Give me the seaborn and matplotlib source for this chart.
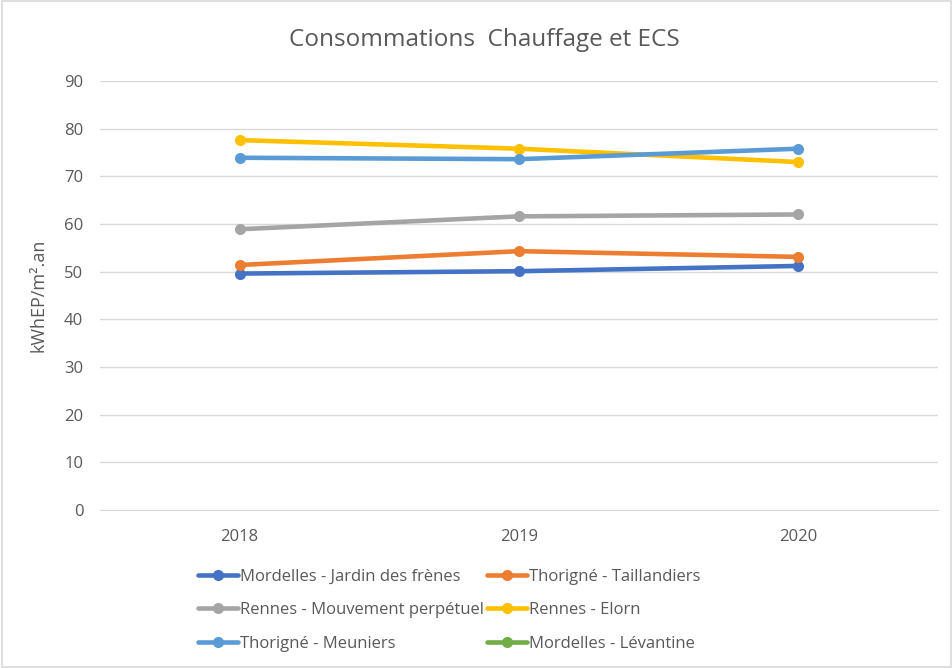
import numpy as np
import pandas as pd
import matplotlib
matplotlib.use('Agg')
import matplotlib.pyplot as plt
from matplotlib.lines import Line2D
from matplotlib.patches import Rectangle
import seaborn as sns

years = ['2018', '2019', '2020']
sites = ['Mordelles - Jardin des frènes', 'Thorigné - Taillandiers',
         'Rennes - Mouvement perpétuel', 'Rennes - Elorn',
         'Thorigné - Meuniers', 'Mordelles - Lévantine']
jardin = [49.6, 50.1, 51.2]
taillandiers = [51.4, 54.3, 53.1]
mouvement = [58.9, 61.6, 62.0]
elorn = [77.6, 75.8, 73.0]
meuniers = [73.9, 73.6, 75.8]
levantine = [np.nan, np.nan, np.nan]
colors = ['#4472C4', '#ED7D31', '#A5A5A5', '#FFC000', '#5B9BD5', '#70AD47']

series = [jardin, taillandiers, mouvement, elorn, meuniers, levantine]
rows = []
for s, vals in zip(sites, series):
    for y, v in zip(years, vals):
        rows.append({'year': y, 'value': v, 'site': s})
df = pd.DataFrame(rows).dropna()

sns.set_style('white')
plt.rcParams['font.family'] = ['Open Sans', 'DejaVu Sans']
txt = '#595959'

fig = plt.figure(figsize=(9.53, 6.68), dpi=100)
fig.patches.append(Rectangle((0.002, 0.002), 0.996, 0.996, transform=fig.transFigure,
                             fill=False, edgecolor='#D9D9D9', linewidth=1.2))
ax = fig.add_axes([100/953, (668-510)/668, 838/953, 429/668])

sns.lineplot(data=df, x='year', y='value', hue='site', hue_order=sites[:5],
             palette=colors[:5], marker='o', markersize=8, markeredgewidth=0,
             linewidth=3.3, legend=False, ax=ax)

ax.set_xlim(-0.5, 2.5)
ax.set_ylim(0, 90)
ax.set_yticks(range(0, 91, 10))
ax.yaxis.grid(True, color='#D9D9D9', linewidth=1)
ax.xaxis.grid(False)
for sp in ['top', 'right', 'left']:
    ax.spines[sp].set_visible(False)
ax.spines['bottom'].set_color('#D9D9D9')
ax.tick_params(axis='both', length=0, labelsize=12, colors=txt, pad=12)
ax.tick_params(axis='x', pad=14)
ax.set_xlabel('')
ax.set_ylabel('kWhEP/m².an', fontsize=13, color=txt, labelpad=12)
fig.text(0.508, 1 - 40/668, 'Consommations  Chauffage et ECS', ha='center', va='center',
         fontsize=17.5, color=txt)

handles = [Line2D([], [], color=c, marker='o', markersize=8, markeredgewidth=0,
                  linewidth=3.3) for c in colors]
order = [0, 2, 4, 1, 3, 5]
leg = fig.legend([handles[i] for i in order], [sites[i] for i in order],
                 ncol=2, loc='upper center', bbox_to_anchor=(0.471, 1 - 557/668),
                 frameon=False, fontsize=12, labelcolor=txt, handlelength=2.4,
                 handletextpad=0.1, columnspacing=0.2, labelspacing=1.05,
                 borderpad=0.2)

fig.savefig('out.png', dpi=100)
